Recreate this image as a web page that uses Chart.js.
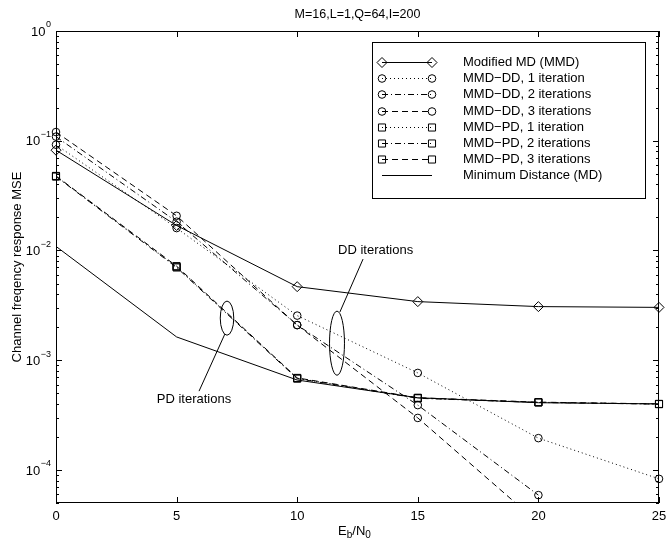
<!DOCTYPE html>
<html>
<head>
<meta charset="utf-8">
<script src="https://cdn.jsdelivr.net/npm/chart.js@4.4.1/dist/chart.umd.min.js"></script>
<style>
  html, body { margin: 0; padding: 0; background: #fff; }
</style>
</head>
<body>
<canvas id="chart" width="668" height="542"></canvas>
<script>
const FONT = '"Liberation Sans", Arial, sans-serif';

// Eb/N0 points (dB)
const snr = [0, 5, 10, 15, 20, 25];

// channel frequency response MSE per estimator
const mmd    = [0.082, 0.0169, 0.00468, 0.00342, 0.00308, 0.00303];
const mmdDD1 = [0.092, 0.0160, 0.00255, 0.000766, 0.000195, 0.000083];
const mmdDD2 = [0.109, 0.0183, 0.00209, 0.000390, 0.000059, null];
const mmdDD3 = [0.120, 0.0207, 0.00209, 0.000298, 0.000033, null];
const mmdPD1 = [0.0475, 0.0071, 0.000685, 0.000452, 0.000414, 0.000399];
const mmdPD2 = [0.0472, 0.0070, 0.000680, 0.000450, 0.000412, 0.000398];
const mmdPD3 = [0.0478, 0.0072, 0.000690, 0.000455, 0.000415, 0.000400];
const md     = [0.0109, 0.00163, 0.00066, 0.000455, 0.000410, 0.000400];

const seriesNames = [
  'Modified MD (MMD)',
  'MMD\u2212DD, 1 iteration',
  'MMD\u2212DD, 2 iterations',
  'MMD\u2212DD, 3 iterations',
  'MMD\u2212PD, 1 iteration',
  'MMD\u2212PD, 2 iterations',
  'MMD\u2212PD, 3 iterations',
  'Minimum Distance (MD)'
];

const xTicks = [0, 5, 10, 15, 20, 25];
const yDecades = [0, -1, -2, -3, -4];

// ellipse callouts, in data units
const callouts = [
  { text: 'DD iterations', cx: 11.65, top: 2.8e-3, bottom: 7.3e-4, rx: 0.31,
    from: [11.77, 2.75e-3], to: [12.73, 8.35e-3], label: [13.25, 1.01e-2] },
  { text: 'PD iterations', cx: 7.09, top: 3.46e-3, bottom: 1.69e-3, rx: 0.28,
    from: [7.0, 1.73e-3], to: [5.93, 5.23e-4], label: [5.72, 4.42e-4] }
];

const DOT = [1, 3];
const DASHDOT = [6, 3, 1, 3];
const DASH = [6, 4];

const styles = [
  { dash: [], point: 'rectRot', r: 5 },
  { dash: DOT, point: 'circle', r: 3.8 },
  { dash: DASHDOT, point: 'circle', r: 3.8 },
  { dash: DASH, point: 'circle', r: 3.8 },
  { dash: DOT, point: 'rect', r: 5 },
  { dash: DASHDOT, point: 'rect', r: 5 },
  { dash: DASH, point: 'rect', r: 5 },
  { dash: [], point: 'circle', r: 0 }
];

const values = [mmd, mmdDD1, mmdDD2, mmdDD3, mmdPD1, mmdPD2, mmdPD3, md];

const datasets = values.map((vals, i) => ({
  label: seriesNames[i],
  data: snr.map((x, j) => ({ x: x, y: vals[j] })),
  borderColor: '#000',
  borderWidth: 1,
  borderDash: styles[i].dash,
  pointStyle: styles[i].point,
  pointRadius: styles[i].r,
  pointBorderColor: '#000',
  pointBackgroundColor: 'rgba(0,0,0,0)',
  pointBorderWidth: 1,
  tension: 0,
  spanGaps: false,
  clip: { left: 8, right: 8, top: 0, bottom: 0 }
}));

function marker(ctx, style, x, y, r) {
  if (!r) return;
  ctx.beginPath();
  if (style === 'circle') {
    ctx.arc(x, y, r, 0, Math.PI * 2);
  } else if (style === 'rect') {
    const h = r * Math.SQRT1_2;
    ctx.rect(x - h, y - h, 2 * h, 2 * h);
  } else {
    ctx.moveTo(x - r, y); ctx.lineTo(x, y - r); ctx.lineTo(x + r, y); ctx.lineTo(x, y + r); ctx.closePath();
  }
  ctx.stroke();
}

const frame = {
  id: 'frame',
  afterDatasetsDraw(chart) {
    const ctx = chart.ctx, a = chart.chartArea;
    const x = chart.scales.x, y = chart.scales.y;
    ctx.save();
    ctx.strokeStyle = '#000';
    ctx.fillStyle = '#000';
    ctx.lineWidth = 1;
    ctx.setLineDash([]);
    ctx.strokeRect(a.left + 0.5, a.top + 0.5, a.right - a.left - 1, a.bottom - a.top - 1);

    // tick marks inside the box
    ctx.beginPath();
    xTicks.forEach(v => {
      const px = Math.round(x.getPixelForValue(v)) + 0.5;
      ctx.moveTo(px, a.bottom); ctx.lineTo(px, a.bottom - 6);
      ctx.moveTo(px, a.top); ctx.lineTo(px, a.top + 6);
    });
    for (let e = -5; e <= 0; e++) {
      for (let m = 1; m <= 9; m++) {
        const v = m * Math.pow(10, e);
        if (v < y.min * 0.999 || v > y.max * 1.001) continue;
        const py = Math.round(y.getPixelForValue(v)) + 0.5;
        const len = m === 1 ? 6 : 3;
        ctx.moveTo(a.left, py); ctx.lineTo(a.left + len, py);
        ctx.moveTo(a.right, py); ctx.lineTo(a.right - len, py);
      }
    }
    ctx.stroke();

    // x tick labels
    ctx.font = '13px ' + FONT;
    ctx.textAlign = 'center';
    ctx.textBaseline = 'middle';
    xTicks.forEach(v => ctx.fillText(String(v), x.getPixelForValue(v), 516));

    // y tick labels 10^n
    yDecades.forEach(e => {
      const py = y.getPixelForValue(Math.pow(10, e));
      const sup = e === 0 ? '0' : '\u2212' + (-e);
      ctx.font = '9px ' + FONT;
      ctx.textAlign = 'right';
      const sw = ctx.measureText(sup).width;
      ctx.fillText(sup, 51, py - 6);
      ctx.font = '13px ' + FONT;
      ctx.fillText('10', 51 - sw - 0.5, py + 1);
    });

    // title
    ctx.font = '12.5px ' + FONT;
    ctx.textAlign = 'center';
    ctx.fillText('M=16,L=1,Q=64,I=200', (a.left + a.right) / 2, 15);

    // y axis title
    ctx.save();
    ctx.translate(17, (a.top + a.bottom) / 2);
    ctx.rotate(-Math.PI / 2);
    ctx.font = '13px ' + FONT;
    ctx.fillText('Channel freqency response MSE', 0, 0);
    ctx.restore();

    // x axis title E_b/N_0
    const parts = [['E', 13, 0], ['b', 10, 4], ['/N', 13, 0], ['0', 10, 4]];
    let total = 0;
    parts.forEach(p => { ctx.font = p[1] + 'px ' + FONT; total += ctx.measureText(p[0]).width; });
    let cx = (a.left + a.right) / 2 - 3 - total / 2;
    ctx.textAlign = 'left';
    parts.forEach(p => {
      ctx.font = p[1] + 'px ' + FONT;
      ctx.fillText(p[0], cx, 531 + p[2]);
      cx += ctx.measureText(p[0]).width;
    });

    // ellipse callouts
    ctx.font = '13px ' + FONT;
    ctx.textAlign = 'center';
    callouts.forEach(c => {
      const ex = x.getPixelForValue(c.cx);
      const t = y.getPixelForValue(c.top), b = y.getPixelForValue(c.bottom);
      const rx = x.getPixelForValue(c.cx + c.rx) - ex;
      ctx.beginPath();
      ctx.ellipse(ex, (t + b) / 2, rx, (b - t) / 2, 0, 0, Math.PI * 2);
      ctx.stroke();
      ctx.beginPath();
      ctx.moveTo(x.getPixelForValue(c.from[0]), y.getPixelForValue(c.from[1]));
      ctx.lineTo(x.getPixelForValue(c.to[0]), y.getPixelForValue(c.to[1]));
      ctx.stroke();
      ctx.fillText(c.text, x.getPixelForValue(c.label[0]), y.getPixelForValue(c.label[1]));
    });

    // legend box
    const lx = 372, ly = 42, lw = 273, lh = 156;
    ctx.fillStyle = '#fff';
    ctx.fillRect(lx, ly, lw, lh);
    ctx.strokeRect(lx + 0.5, ly + 0.5, lw, lh);
    ctx.fillStyle = '#000';
    ctx.textAlign = 'left';
    chart.data.datasets.forEach((ds, i) => {
      const ry = Math.round(62 + i * 16.2) + 0.5;
      ctx.setLineDash(ds.borderDash);
      ctx.beginPath();
      ctx.moveTo(382, ry); ctx.lineTo(432, ry);
      ctx.stroke();
      ctx.setLineDash([]);
      marker(ctx, ds.pointStyle, 382, ry, ds.pointRadius);
      marker(ctx, ds.pointStyle, 432, ry, ds.pointRadius);
      ctx.fillText(ds.label, 463, ry);
    });
    ctx.restore();
  }
};

new Chart(document.getElementById('chart').getContext('2d'), {
  type: 'line',
  data: { datasets: datasets },
  options: {
    responsive: false,
    animation: false,
    layout: { padding: { left: 56, right: 9, top: 31, bottom: 39 } },
    scales: {
      x: { type: 'linear', min: 0, max: 25, display: false },
      y: { type: 'logarithmic', min: 5e-5, max: 1, display: false }
    },
    plugins: { legend: { display: false }, tooltip: { enabled: false } }
  },
  plugins: [frame]
});
</script>
</body>
</html>
